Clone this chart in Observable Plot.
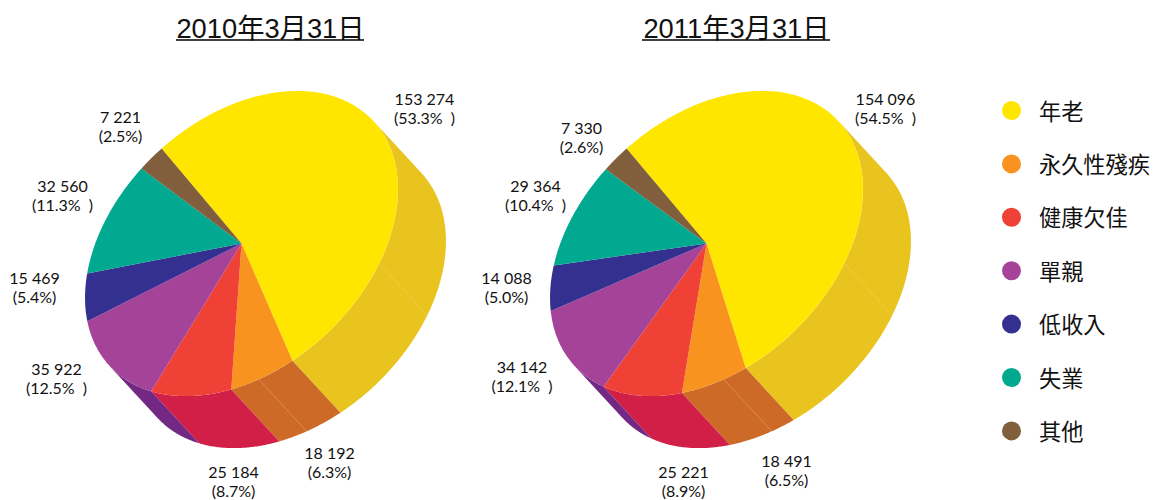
<!DOCTYPE html>
<html><head><meta charset="utf-8">
<style>html,body{margin:0;padding:0;background:#fff}svg{display:block}</style>
<script src="https://cdn.jsdelivr.net/npm/d3@7"></script>
<script src="https://cdn.jsdelivr.net/npm/@observablehq/plot@0.6"></script>
</head><body><div id="chart"></div>
<script>
// ---- data ----
const categories = ["年老","永久性殘疾","健康欠佳","單親","低收入","失業","其他"];
const values2010 = [153274,18192,25184,35922,15469,32560,7221];
const values2011 = [154096,18491,25221,34142,14088,29364,7330];
const valueLabels2010 = ["153 274","18 192","25 184","35 922","15 469","32 560","7 221"];
const valueLabels2011 = ["154 096","18 491","25 221","34 142","14 088","29 364","7 330"];
const pctLabels2010 = ["(53.3%  )","(6.3%)","(8.7%)","(12.5%  )","(5.4%)","(11.3%  )","(2.5%)"];
const pctLabels2011 = ["(54.5%  )","(6.5%)","(8.9%)","(12.1%  )","(5.0%)","(10.4%  )","(2.6%)"];
const titles = ["2010年3月31日","2011年3月31日"];

// ---- style and layout ----
const topColors  = ["#FFE600","#F7931E","#EF4136","#A54399","#33308F","#00A98F","#815E3C"];
const wallColors = ["#E9C41E","#CE6A28","#D11F47","#732883",null,null,null];
const pieCenters = [[241,243],[706,243]];
const semiMajor = 180, semiMinor = 124, tilt = 43 * Math.PI / 180, startAngle = -88;
const depth = [48,52];
const seamAngles = [61,116.4];
const labelAt2010 = [[424,108],[329,462],[233,481],[56,378],[34,287],[62,195],[120,126]];
const labelAt2011 = [[885,108],[786,470],[683,481],[521.5,376],[506,287],[535,195],[581,137]];
const labelFont = "Lato,'Noto Sans',sans-serif";
const titleFont = "'Liberation Sans','Noto Sans CJK TC',sans-serif";

// ---- geometry from the values ----
const project = (c, deg, off = [0,0]) => {
  const t = deg * Math.PI / 180;
  const u = semiMajor * Math.cos(t), v = semiMinor * Math.sin(t);
  return [c[0] + u * Math.cos(tilt) + v * Math.sin(tilt) + off[0],
          c[1] - u * Math.sin(tilt) + v * Math.cos(tilt) + off[1]];
};
// The part of the rim whose wall faces the viewer, between the two tangents along the depth direction.
const depthU = (depth[0] * Math.cos(tilt) - depth[1] * Math.sin(tilt)) / semiMajor;
const depthV = (depth[0] * Math.sin(tilt) + depth[1] * Math.cos(tilt)) / semiMinor;
const depthAngle = Math.atan2(depthV, depthU) * 180 / Math.PI;
const frontFrom = depthAngle - 90, frontTo = depthAngle + 90;

const arcPts = (c, a0, a1, off) => d3.range(0, 61).map(i => project(c, a0 + (a1 - a0) * i / 60, off));
const walls = [], tops = [], seams = [];
[values2010, values2011].forEach((vals, p) => {
  const c = pieCenters[p], total = d3.sum(vals);
  let a = startAngle;
  vals.forEach((v, i) => {
    const a1 = a + v / total * 360;
    const top = [c, ...arcPts(c, a, a1), c];
    top.forEach(q => tops.push({x:q[0], y:q[1], id:`${p}-${i}`, fill:topColors[i]}));
    const lo = Math.max(a, frontFrom), hi = Math.min(a1, frontTo);
    if (wallColors[i] && hi > lo) {
      const rim = arcPts(c, lo, hi);
      [...rim, ...arcPts(c, hi, lo, depth), rim[0]]
        .forEach(q => walls.push({x:q[0], y:q[1], id:`${p}-${i}`, fill:wallColors[i]}));
    }
    a = a1;
  });
  seamAngles.forEach(s => {
    const q0 = project(c, s), q1 = project(c, s, depth);
    seams.push({x1:q0[0], y1:q0[1], x2:q1[0], y2:q1[1]});
  });
});
const labels = [
  ...categories.map((_, i) => ({x:labelAt2010[i][0], y:labelAt2010[i][1], text:valueLabels2010[i]+"\n"+pctLabels2010[i]})),
  ...categories.map((_, i) => ({x:labelAt2011[i][0], y:labelAt2011[i][1], text:valueLabels2011[i]+"\n"+pctLabels2011[i]}))
];
const titleRows = [{x:270, x1:176, x2:364, text:titles[0]}, {x:736, x1:642, x2:830, text:titles[1]}];
const legendRows = categories.map((name, i) => ({name, fill:topColors[i], y:110 + i * 53.4}));

const chart = Plot.plot({
  width:1156, height:500, margin:0,
  x:{domain:[0,1156], range:[0,1156], axis:null},
  y:{domain:[0,500], range:[0,500], axis:null},
  color:{type:"identity"},
  style:{background:"#fff"},
  marks:[
    Plot.line(walls, {x:"x", y:"y", z:"id", fill:"fill", stroke:"none", curve:"linear"}),
    Plot.link(seams, {x1:"x1", y1:"y1", x2:"x2", y2:"y2", stroke:"#f5e0a0", strokeWidth:0.5, strokeOpacity:0.6}),
    Plot.line(tops, {x:"x", y:"y", z:"id", fill:"fill", stroke:"none", curve:"linear"}),
    Plot.text(labels, {x:"x", y:"y", text:"text", fontSize:16, lineHeight:1.19, fill:"#111", fontFamily:labelFont}),
    Plot.text(titleRows, {x:"x", y:()=>29, text:"text", fontSize:27.3, fill:"#111", fontFamily:titleFont}),
    Plot.ruleY(titleRows, {y:()=>39.5, x1:"x1", x2:"x2", stroke:"#000", strokeWidth:1.6}),
    Plot.dot(legendRows, {x:()=>1011, y:"y", r:9.5, fill:"fill", stroke:"none"}),
    Plot.text(legendRows, {x:()=>1038.5, y:d=>d.y+2, text:"name", textAnchor:"start", fontSize:22.2, fill:"#111", fontFamily:"'Noto Sans CJK TC',sans-serif"})
  ]
});
document.getElementById("chart").append(chart);
</script></body></html>
